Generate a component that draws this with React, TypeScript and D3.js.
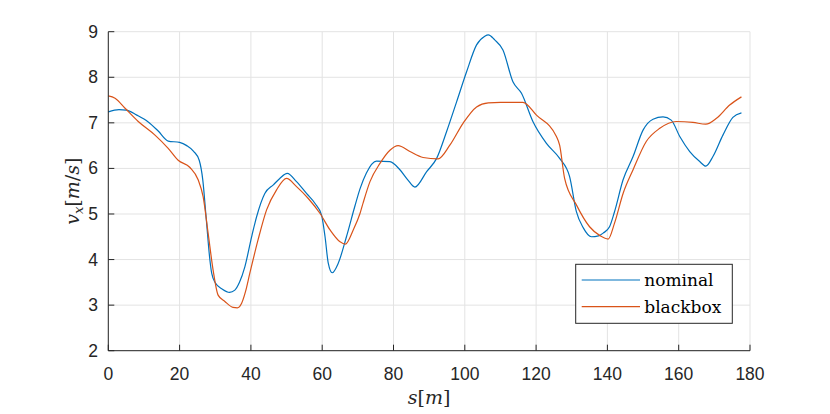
import React from "react";
import * as d3 from "d3";

const nominalS = [0, 3, 5, 8, 11.2, 14, 16.8, 20, 22, 24, 25.5, 26.5, 27.5, 28.5, 29, 30, 32, 34, 35.5, 36.8, 38.3, 40.2, 41.6, 43.9, 46.3, 48.1, 50.2, 52.8, 55.6, 58, 59.8, 60.8, 61.7, 62.8, 64.5, 66.8, 69.2, 70.6, 72.4, 75.2, 79, 81.8, 84, 86, 89.3, 92.1, 94.9, 97.7, 100.5, 103.3, 105.6, 106.6, 108.4, 110.7, 113.5, 115.9, 119.1, 122.9, 126.6, 129.4, 131.3, 133.2, 135.5, 137.5, 138.8, 140.6, 142, 144.4, 147.2, 150, 152.8, 155.6, 157.9, 160.3, 163.1, 165.9, 167.6, 169.6, 172.4, 175.2, 177.6];
const nominalV = [7.24, 7.29, 7.28, 7.17, 7.02, 6.82, 6.6, 6.57, 6.5, 6.37, 6.18, 5.75, 4.87, 3.99, 3.7, 3.49, 3.35, 3.28, 3.33, 3.5, 3.84, 4.5, 4.94, 5.45, 5.64, 5.78, 5.89, 5.71, 5.45, 5.23, 4.98, 4.5, 3.92, 3.71, 3.92, 4.5, 5.18, 5.55, 5.9, 6.16, 6.15, 5.97, 5.75, 5.59, 5.93, 6.22, 6.81, 7.46, 8.12, 8.71, 8.9, 8.93, 8.82, 8.6, 7.9, 7.65, 7.03, 6.55, 6.22, 5.82, 5.05, 4.7, 4.5, 4.52, 4.58, 4.72, 5.05, 5.75, 6.26, 6.84, 7.08, 7.13, 7.06, 6.7, 6.37, 6.15, 6.05, 6.26, 6.73, 7.12, 7.22];

const blackboxS = [0, 1.9, 4.7, 8.4, 13.1, 16.8, 19.6, 22.9, 25.2, 26.6, 28, 29.4, 30.8, 32.7, 35, 36.2, 37.4, 38.5, 39.7, 42, 44.4, 47.2, 50, 52.8, 56.1, 59.4, 62.2, 65, 66.5, 68.7, 70.6, 71.5, 73.4, 76.2, 79, 81.3, 84.6, 88.3, 92.5, 95.8, 99.5, 103.3, 106.6, 110, 116.3, 120.1, 125.7, 126.6, 128, 131.3, 135, 138, 140.2, 142, 144.4, 147.2, 150.9, 154.7, 159.3, 164, 167.6, 170.6, 174.3, 177.6];
const blackboxV = [7.59, 7.54, 7.32, 7.03, 6.73, 6.44, 6.18, 6.02, 5.75, 5.38, 4.58, 3.77, 3.22, 3.08, 2.95, 2.94, 3.04, 3.3, 3.7, 4.43, 5.09, 5.53, 5.78, 5.6, 5.34, 5.01, 4.65, 4.39, 4.34, 4.65, 5.01, 5.25, 5.71, 6.11, 6.4, 6.5, 6.37, 6.24, 6.21, 6.51, 6.99, 7.35, 7.44, 7.45, 7.45, 7.17, 6.7, 6.51, 5.78, 5.2, 4.72, 4.52, 4.45, 4.8, 5.45, 5.97, 6.59, 6.88, 7.03, 7.01, 6.97, 7.1, 7.39, 7.57];

const xTicks = [0, 20, 40, 60, 80, 100, 120, 140, 160, 180];
const yTicks = [2, 3, 4, 5, 6, 7, 8, 9];
const seriesNames = ["nominal", "blackbox"];
const seriesColors = ["#0072BD", "#D95319"];

const W = 830, H = 414;
const L = 108.3, R = 750, T = 31.7, B = 350.7;

export default function App() {
  const x = d3.scaleLinear().domain([0, 180]).range([L, R]);
  const y = d3.scaleLinear().domain([2, 9]).range([B, T]);
  const line = d3
    .line<[number, number]>()
    .x((d) => x(d[0]))
    .y((d) => y(d[1]))
    .curve(d3.curveMonotoneX);
  const nom = nominalS.map((s, i) => [s, nominalV[i]] as [number, number]);
  const bb = blackboxS.map((s, i) => [s, blackboxV[i]] as [number, number]);
  const axisColor = "#262626";
  const grid = "#e3e3e3";
  const tickFont = "Liberation Sans, Arial, sans-serif";
  const serif = "DejaVu Serif, Liberation Serif, serif";
  return (
    <div style={{ position: "absolute", left: 0, top: 0 }}>
      <svg width={W} height={H} style={{ display: "block", background: "#fff" }}>
        <rect x={0} y={0} width={W} height={H} fill="#fff" />
        {xTicks.map((t) => (
          <line key={"gx" + t} x1={x(t)} x2={x(t)} y1={T} y2={B} stroke={grid} strokeWidth={1} />
        ))}
        {yTicks.map((t) => (
          <line key={"gy" + t} x1={L} x2={R} y1={y(t)} y2={y(t)} stroke={grid} strokeWidth={1} />
        ))}
        <path d={line(nom) || ""} fill="none" stroke={seriesColors[0]} strokeWidth={1.2} />
        <path d={line(bb) || ""} fill="none" stroke={seriesColors[1]} strokeWidth={1.2} />
        <line x1={L} x2={R} y1={B} y2={B} stroke={axisColor} strokeWidth={1} />
        <line x1={L} x2={L} y1={T} y2={B} stroke={axisColor} strokeWidth={1} />
        {xTicks.map((t) => (
          <g key={"xt" + t}>
            <line x1={x(t)} x2={x(t)} y1={B} y2={B - 6} stroke={axisColor} strokeWidth={1} />
            <text x={x(t)} y={380} textAnchor="middle" fontFamily={tickFont} fontSize={17.5} fill={axisColor}>
              {t}
            </text>
          </g>
        ))}
        {yTicks.map((t) => (
          <g key={"yt" + t}>
            <line x1={L} x2={L + 6} y1={y(t)} y2={y(t)} stroke={axisColor} strokeWidth={1} />
            <text x={98} y={y(t) + 6} textAnchor="end" fontFamily={tickFont} fontSize={17.5} fill={axisColor}>
              {t}
            </text>
          </g>
        ))}
        <text x={(L + R) / 2} y={404} textAnchor="middle" fontFamily={serif} fontSize={19} fill={axisColor}>
          <tspan fontStyle="italic">s</tspan>
          <tspan>[</tspan>
          <tspan fontStyle="italic">m</tspan>
          <tspan>]</tspan>
        </text>
        <text
          transform={`translate(79, ${(T + B) / 2}) rotate(-90)`}
          textAnchor="middle"
          fontFamily={serif}
          fontSize={19}
          fill={axisColor}
        >
          <tspan fontStyle="italic">v</tspan>
          <tspan fontStyle="italic" fontSize={13} dy={4}>x</tspan>
          <tspan dy={-4}>[</tspan>
          <tspan fontStyle="italic">m</tspan>
          <tspan>/</tspan>
          <tspan fontStyle="italic">s</tspan>
          <tspan>]</tspan>
        </text>
        <rect x={575.7} y={264.3} width={156.6} height={59} fill="#fff" stroke={axisColor} strokeWidth={1} />
        {seriesNames.map((n, i) => (
          <g key={n}>
            <line x1={581.7} x2={640} y1={280 + i * 26.7} y2={280 + i * 26.7} stroke={seriesColors[i]} strokeWidth={1.2} />
            <text x={644.3} y={286 + i * 26.7} fontFamily={serif} fontSize={17} fill="#000">
              {n}
            </text>
          </g>
        ))}
      </svg>
    </div>
  );
}
